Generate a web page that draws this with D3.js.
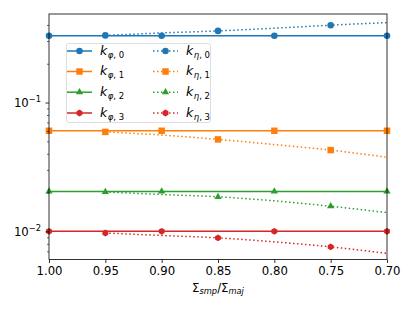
<!DOCTYPE html>
<html>
<head>
<meta charset="utf-8">
<script src="https://cdn.jsdelivr.net/npm/d3@7"></script>
<style>
  body { margin: 0; background: #fff; }
</style>
</head>
<body>
<div id="chart"></div>
<script>
// x values (Sigma_smp / Sigma_maj), axis runs from 1.00 down to 0.70
var xPhi = [1.00, 0.95, 0.90, 0.85, 0.80, 0.75, 0.70];
var xEta = [0.95, 0.90, 0.85, 0.80, 0.75, 0.70];
var xTicks = [1.00, 0.95, 0.90, 0.85, 0.80, 0.75, 0.70];

// k_phi,i (constant)
var kPhi0 = [0.333, 0.333, 0.333, 0.333, 0.333, 0.333, 0.333];
var kPhi1 = [0.0609, 0.0609, 0.0609, 0.0609, 0.0609, 0.0609, 0.0609];
var kPhi2 = [0.0206, 0.0206, 0.0206, 0.0206, 0.0206, 0.0206, 0.0206];
var kPhi3 = [0.0101, 0.0101, 0.0101, 0.0101, 0.0101, 0.0101, 0.0101];

// k_eta,i
var kEta0 = [0.335, 0.350, 0.363, 0.381, 0.402, 0.421];
var kEta1 = [0.0597, 0.0564, 0.0522, 0.0476, 0.0431, 0.0379];
var kEta2 = [0.0204, 0.0195, 0.0187, 0.0174, 0.0158, 0.0141];
var kEta3 = [0.0098, 0.00937, 0.00898, 0.00836, 0.00765, 0.0068];

var yMajor = [0.01, 0.1];
var colors = ['#1f77b4', '#ff7f0e', '#2ca02c', '#d62728'];
var markers = ['circle', 'square', 'triangle', 'hexagon'];

var width = 415, height = 311;
var margin = {top: 14, right: 28, bottom: 51.5, left: 49};

var svg = d3.select('#chart').append('svg')
  .attr('width', width)
  .attr('height', height)
  .attr('font-family', 'DejaVu Sans')
  .attr('font-size', '11.7px');

var x = d3.scaleLinear()
  .domain([1.0, 0.7])
  .range([margin.left, width - margin.right]);

var y = d3.scaleLog()
  .domain([0.0061, 0.491])
  .range([height - margin.bottom, margin.top]);

// marker path generator
function markerPath(type) {
  if (type === 'circle') return d3.symbol(d3.symbolCircle, 34)();
  if (type === 'square') return d3.symbol(d3.symbolSquare, 42)();
  if (type === 'triangle') {
    var r = 4.2;
    return 'M0,' + (-r) + 'L' + (r * 0.87) + ',' + (r * 0.5) + 'L' + (-r * 0.87) + ',' + (r * 0.5) + 'Z';
  }
  // hexagon, point up
  var pts = d3.range(6).map(function (i) {
    var a = Math.PI / 3 * i - Math.PI / 2;
    return [3.4 * Math.cos(a), 3.4 * Math.sin(a)];
  });
  return 'M' + pts.join('L') + 'Z';
}

var plot = svg.append('g');

var line = d3.line()
  .x(d => x(d[0]))
  .y(d => y(d[1]));

var lineCurve = d3.line()
  .x(d => x(d[0]))
  .y(d => y(d[1]))
  .curve(d3.curveMonotoneX);

var phiSeries = [kPhi0, kPhi1, kPhi2, kPhi3];
var etaSeries = [kEta0, kEta1, kEta2, kEta3];

phiSeries.forEach(function (vals, i) {
  var pts = xPhi.map((v, j) => [v, vals[j]]);
  plot.append('path')
    .attr('d', line(pts))
    .attr('fill', 'none')
    .attr('stroke', colors[i])
    .attr('stroke-width', 1.5);
});

etaSeries.forEach(function (vals, i) {
  var pts = xEta.map((v, j) => [v, vals[j]]);
  plot.append('path')
    .attr('d', lineCurve(pts))
    .attr('fill', 'none')
    .attr('stroke', colors[i])
    .attr('stroke-width', 1.5)
    .attr('stroke-dasharray', '1.5,2.5');
});

// markers: every other point
phiSeries.forEach(function (vals, i) {
  plot.append('g').selectAll('path')
    .data(xPhi.map((v, j) => [v, vals[j]]).filter((d, j) => j % 2 === 0))
    .join('path')
    .attr('transform', d => `translate(${x(d[0])},${y(d[1])})`)
    .attr('d', markerPath(markers[i]))
    .attr('fill', colors[i]);
});

etaSeries.forEach(function (vals, i) {
  plot.append('g').selectAll('path')
    .data(xEta.map((v, j) => [v, vals[j]]).filter((d, j) => j % 2 === 0))
    .join('path')
    .attr('transform', d => `translate(${x(d[0])},${y(d[1])})`)
    .attr('d', markerPath(markers[i]))
    .attr('fill', colors[i]);
});

// x axis
var xAxis = svg.append('g')
  .attr('transform', `translate(0,${height - margin.bottom})`)
  .call(d3.axisBottom(x).tickValues(xTicks).tickFormat(d3.format('.2f')).tickSize(3.5).tickPadding(3.5).tickSizeOuter(0));
xAxis.select('.domain').remove();
xAxis.selectAll('.tick line').attr('stroke', '#000').attr('stroke-width', 0.8);
xAxis.selectAll('.tick text')
  .attr('fill', '#000')
  .attr('font-size', '11.7px')
  .attr('font-family', 'DejaVu Sans');

// y axis, log: minor ticks
var minor = [];
[0.001, 0.01, 0.1].forEach(function (dec) {
  d3.range(2, 10).forEach(function (m) {
    var v = m * dec;
    if (v >= y.domain()[0] && v <= y.domain()[1]) minor.push(v);
  });
});

var yAxis = svg.append('g')
  .attr('transform', `translate(${margin.left},0)`);

yAxis.selectAll('line.minor')
  .data(minor)
  .join('line')
  .attr('class', 'minor')
  .attr('x1', -2).attr('x2', 0)
  .attr('y1', d => y(d)).attr('y2', d => y(d))
  .attr('stroke', '#000')
  .attr('stroke-width', 0.6);

yAxis.selectAll('line.major')
  .data(yMajor)
  .join('line')
  .attr('class', 'major')
  .attr('x1', -3.5).attr('x2', 0)
  .attr('y1', d => y(d)).attr('y2', d => y(d))
  .attr('stroke', '#000')
  .attr('stroke-width', 0.8);

var yLab = yAxis.selectAll('text.ylab')
  .data(yMajor)
  .join('text')
  .attr('class', 'ylab')
  .attr('x', -8)
  .attr('y', d => y(d) + 4.3)
  .attr('text-anchor', 'end')
  .attr('fill', '#000');
yLab.append('tspan').text('10');
yLab.append('tspan')
  .attr('dy', -5.5)
  .attr('font-size', '8.3px')
  .text(d => '\u2212' + Math.round(-Math.log10(d)));

// frame
svg.append('rect')
  .attr('x', margin.left)
  .attr('y', margin.top)
  .attr('width', width - margin.left - margin.right)
  .attr('height', height - margin.top - margin.bottom)
  .attr('fill', 'none')
  .attr('stroke', '#000')
  .attr('stroke-width', 0.8);

// x label
var xl = svg.append('text')
  .attr('x', (margin.left + width - margin.right) / 2)
  .attr('y', 291.5)
  .attr('text-anchor', 'middle')
  .attr('fill', '#000');
xl.append('tspan').text('\u03a3');
xl.append('tspan').attr('dy', 2.5).attr('font-size', '8.3px').attr('font-style', 'italic').text('smp');
xl.append('tspan').attr('dy', -2.5).text('/\u03a3');
xl.append('tspan').attr('dy', 2.5).attr('font-size', '8.3px').attr('font-style', 'italic').text('maj');

// legend
var legend = svg.append('g');
legend.append('rect')
  .attr('x', 66.5).attr('y', 43.5)
  .attr('width', 144).attr('height', 79)
  .attr('rx', 2.5)
  .attr('fill', 'white')
  .attr('fill-opacity', 0.8)
  .attr('stroke', '#d6d6d6')
  .attr('stroke-width', 0.8);

var rowY = [51, 71.5, 92.2, 113];
[0, 1].forEach(function (col) {
  var x0 = col === 0 ? 67 : 153;
  colors.forEach(function (c, i) {
    var g = legend.append('g');
    g.append('line')
      .attr('x1', x0).attr('x2', x0 + 25)
      .attr('y1', rowY[i]).attr('y2', rowY[i])
      .attr('stroke', c)
      .attr('stroke-width', 1.5)
      .attr('stroke-dasharray', col === 0 ? null : '1.5,2.5');
    g.append('path')
      .attr('transform', `translate(${x0 + 12.5},${rowY[i]})`)
      .attr('d', markerPath(markers[i]))
      .attr('fill', c);
    var t = g.append('text')
      .attr('x', x0 + 33)
      .attr('y', rowY[i] + 3.5)
      .attr('fill', '#000');
    t.append('tspan').attr('font-style', 'italic').attr('font-size', '12.5px').text('k');
    var sub = t.append('tspan').attr('dy', 3).attr('dx', 0.5).attr('font-size', '8.5px');
    sub.append('tspan').attr('font-style', 'italic').text(col === 0 ? '\u03c6' : '\u03b7');
    sub.append('tspan').text(', ' + i);
  });
});
</script>
</body>
</html>
